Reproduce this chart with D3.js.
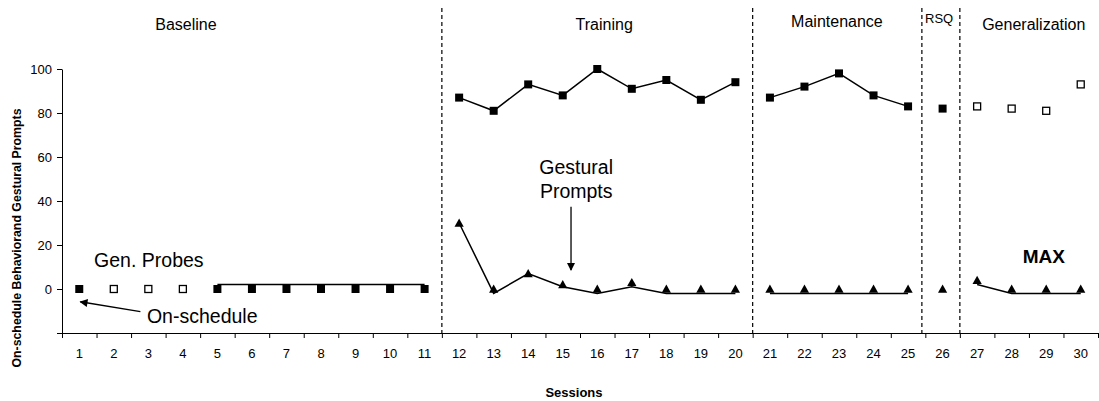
<!DOCTYPE html>
<html>
<head>
<meta charset="utf-8">
<script src="https://cdn.jsdelivr.net/npm/d3@7"></script>
<style>
  html, body { margin: 0; padding: 0; background: #fff; }
  svg { display: block; }
  text { font-family: "Liberation Sans", Arial, sans-serif; fill: #000; }
</style>
</head>
<body>
<svg id="chart" width="1099" height="401"></svg>
<script>
// ---------------- DATA ----------------
const sessions = d3.range(1, 31);
const yTickValues = [-20, 0, 20, 40, 60, 80, 100];

// On-schedule behavior: filled squares (session, value)
const onScheduleFilled = [
  [1, 0], [5, 0], [6, 0], [7, 0], [8, 0], [9, 0], [10, 0], [11, 0],
  [12, 87], [13, 81], [14, 93], [15, 88], [16, 100], [17, 91], [18, 95], [19, 86], [20, 94],
  [21, 87], [22, 92], [23, 98], [24, 88], [25, 83],
  [26, 82]
];
// Generalization probes: open squares
const genProbes = [[2, 0], [3, 0], [4, 0], [27, 83], [28, 82], [29, 81], [30, 93]];

// Connecting line segments for on-schedule (as drawn in picture)
const onScheduleBaselineLine = [[5, 2], [6, 2], [7, 2], [8, 2], [9, 2], [10, 2], [11, 2]];
const onScheduleTrainingLine = [[12, 87], [13, 81], [14, 93], [15, 88], [16, 100], [17, 91], [18, 95], [19, 86], [20, 94]];
const onScheduleMaintLine = [[21, 87], [22, 92], [23, 98], [24, 88], [25, 83]];

// Gestural prompts: triangles
const gesturalPrompts = [
  [12, 30], [13, 0], [14, 7], [15, 2], [16, 0], [17, 3], [18, 0], [19, 0], [20, 0],
  [21, 0], [22, 0], [23, 0], [24, 0], [25, 0],
  [26, 0],
  [27, 4], [28, 0], [29, 0], [30, 0]
];
// Connecting line segments for gestural prompts (as drawn in picture)
const gesturalTrainingLine = [[12, 30], [13, -2], [14, 7], [15, 1], [16, -2], [17, 1], [18, -2], [19, -2], [20, -2]];
const gesturalMaintLine = [[21, -2], [22, -2], [23, -2], [24, -2], [25, -2]];
const gesturalGenLine = [[27, 2], [28, -2], [29, -2], [30, -2]];

// Phase change lines (session units) and phase labels
const phaseBreaks = [11.5, 20.5, 25.4, 26.5];
const phaseNames = ["Baseline", "Training", "Maintenance", "RSQ", "Generalization"];
const phaseLabelPos = [4.09, 16.2, 22.94, 25.9, 28.64];

// ---------------- LAYOUT ----------------
const svg = d3.select("#chart");
const x = d3.scaleLinear().domain([0.5, 30.5]).range([62, 1098]);
const y = d3.scaleLinear().domain([-20, 100]).range([333, 69]);

// Y axis
const yAxis = svg.append("g")
  .attr("transform", `translate(${x(0.5)},0)`)
  .call(d3.axisLeft(y).tickValues(yTickValues)
    .tickFormat(d => d < 0 ? "" : d).tickSize(5).tickSizeOuter(0).tickPadding(5));
yAxis.selectAll("text").style("font-size", "13px").attr("fill", "#000");

// X axis (ticks at session boundaries)
const xAxis = svg.append("g")
  .attr("transform", `translate(0,${y(-20)})`)
  .call(d3.axisBottom(x).tickValues(d3.range(0.5, 31, 1)).tickFormat("").tickSize(5).tickSizeOuter(0));
svg.selectAll(".domain, .tick line").attr("stroke", "#000");

// X labels centered in session slots
svg.append("g").selectAll("text").data(sessions).join("text")
  .attr("x", d => x(d)).attr("y", 358)
  .attr("text-anchor", "middle").style("font-size", "13px")
  .text(d => d);

// Axis titles
svg.append("text")
  .attr("transform", `translate(21,238) rotate(-90)`)
  .attr("text-anchor", "middle")
  .style("font-size", "12.3px").style("font-weight", "bold")
  .text("On-schedule Behaviorand Gestural Prompts");
svg.append("text")
  .attr("x", 574).attr("y", 397).attr("text-anchor", "middle")
  .style("font-size", "13px").style("font-weight", "bold")
  .text("Sessions");

// Phase lines
svg.append("g").selectAll("line").data(phaseBreaks).join("line")
  .attr("x1", d => x(d)).attr("x2", d => x(d))
  .attr("y1", 8).attr("y2", y(-20) + 3)
  .attr("stroke", "#000").attr("stroke-width", 1.2)
  .attr("stroke-dasharray", "4,3");

// Phase labels
const phaseLabelY = [30, 30, 27, 23, 30];
const phaseLabelSize = [16, 16, 16, 13, 16];
svg.append("g").selectAll("text").data(phaseNames).join("text")
  .attr("x", (d, i) => x(phaseLabelPos[i]))
  .attr("y", (d, i) => phaseLabelY[i])
  .attr("text-anchor", "middle")
  .style("font-size", (d, i) => phaseLabelSize[i] + "px")
  .text(d => d);

// Lines
const line = d3.line().x(d => x(d[0])).y(d => y(d[1]));
[onScheduleBaselineLine, onScheduleTrainingLine, onScheduleMaintLine,
 gesturalTrainingLine, gesturalMaintLine, gesturalGenLine].forEach(seg => {
  svg.append("path").datum(seg).attr("d", line)
    .attr("fill", "none").attr("stroke", "#000").attr("stroke-width", 1.5);
});

// Markers
svg.append("g").selectAll("rect").data(onScheduleFilled).join("rect")
  .attr("x", d => x(d[0]) - 4).attr("y", d => y(d[1]) - 4)
  .attr("width", 8).attr("height", 8).attr("fill", "#000");
svg.append("g").selectAll("rect").data(genProbes).join("rect")
  .attr("x", d => x(d[0]) - 3.5).attr("y", d => y(d[1]) - 3.5)
  .attr("width", 7).attr("height", 7).attr("fill", "#fff")
  .attr("stroke", "#000").attr("stroke-width", 1.3);
svg.append("g").selectAll("path").data(gesturalPrompts).join("path")
  .attr("transform", d => `translate(${x(d[0])},${y(d[1])})`)
  .attr("d", "M0,-4.5L4.6,3.7L-4.6,3.7Z").attr("fill", "#000");

// Annotations
const defs = svg.append("defs");
defs.append("marker").attr("id", "ah").attr("viewBox", "0 0 10 10")
  .attr("refX", 9).attr("refY", 5).attr("markerWidth", 10).attr("markerHeight", 8)
  .attr("markerUnits", "userSpaceOnUse").attr("orient", "auto")
  .append("path").attr("d", "M0,0L10,5L0,10Z").attr("fill", "#000");

svg.append("text").attr("x", x(1.43)).attr("y", y(10.1))
  .style("font-size", "19.5px").text("Gen. Probes");
svg.append("text").attr("x", x(2.96)).attr("y", y(-15.3))
  .style("font-size", "19.5px").text("On-schedule");
svg.append("line")
  .attr("x1", x(2.77)).attr("y1", y(-10.3))
  .attr("x2", x(1.03)).attr("y2", y(-5.8))
  .attr("stroke", "#000").attr("stroke-width", 1.3).attr("marker-end", "url(#ah)");

svg.append("text").attr("x", x(15.39)).attr("y", y(52.2)).attr("text-anchor", "middle")
  .style("font-size", "19.5px").text("Gestural");
svg.append("text").attr("x", x(15.39)).attr("y", y(41.3)).attr("text-anchor", "middle")
  .style("font-size", "19.5px").text("Prompts");
svg.append("line")
  .attr("x1", x(15.24)).attr("y1", y(37.4))
  .attr("x2", x(15.24)).attr("y2", y(8.6))
  .attr("stroke", "#000").attr("stroke-width", 1.3).attr("marker-end", "url(#ah)");

svg.append("text").attr("x", x(28.32)).attr("y", y(11.8))
  .style("font-size", "19px").style("font-weight", "bold").text("MAX");
</script>
</body>
</html>
